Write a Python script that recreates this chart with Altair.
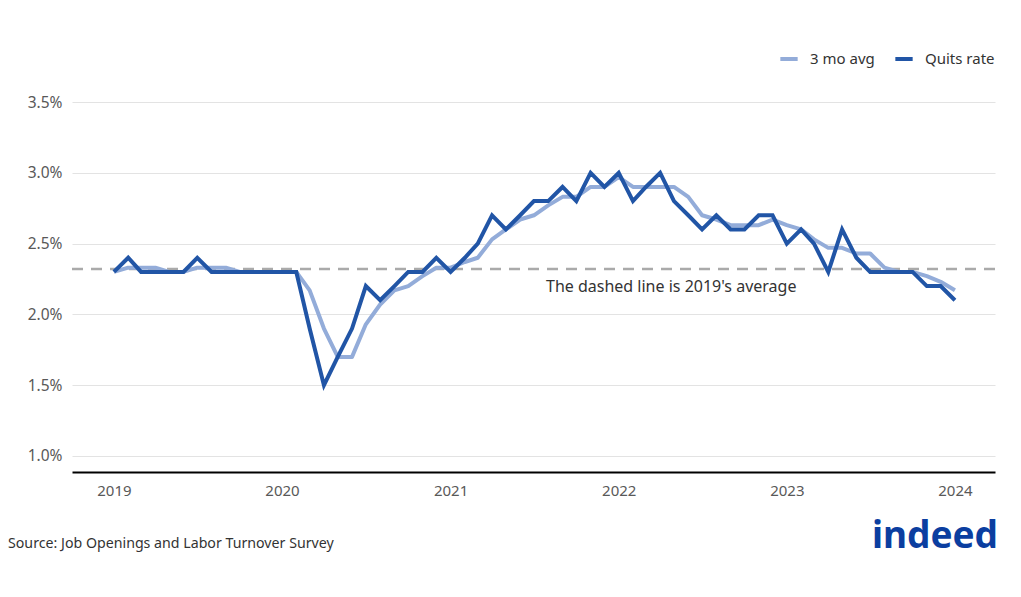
import altair as alt
import pandas as pd

# Monthly observations Jan 2019 .. Jan 2024
months = pd.date_range("2019-01-01", periods=61, freq="MS").strftime("%Y-%m-%dT00:00:00").tolist()

quits_rate = [
    2.3, 2.4, 2.3, 2.3, 2.3, 2.3, 2.4, 2.3, 2.3, 2.3, 2.3, 2.3,   # 2019
    2.3, 2.3, 1.9, 1.5, 1.7, 1.9, 2.2, 2.1, 2.2, 2.3, 2.3, 2.4,   # 2020
    2.3, 2.4, 2.5, 2.7, 2.6, 2.7, 2.8, 2.8, 2.9, 2.8, 3.0, 2.9,   # 2021
    3.0, 2.8, 2.9, 3.0, 2.8, 2.7, 2.6, 2.7, 2.6, 2.6, 2.7, 2.7,   # 2022
    2.5, 2.6, 2.5, 2.3, 2.6, 2.4, 2.3, 2.3, 2.3, 2.3, 2.2, 2.2,   # 2023
    2.1,                                                           # 2024
]

avg_3mo = [
    2.30, 2.33, 2.33, 2.33, 2.30, 2.30, 2.33, 2.33, 2.33, 2.30, 2.30, 2.30,   # 2019
    2.30, 2.30, 2.17, 1.90, 1.70, 1.70, 1.93, 2.07, 2.17, 2.20, 2.27, 2.33,   # 2020
    2.33, 2.37, 2.40, 2.53, 2.60, 2.67, 2.70, 2.77, 2.83, 2.83, 2.90, 2.90,   # 2021
    2.97, 2.90, 2.90, 2.90, 2.90, 2.83, 2.70, 2.67, 2.63, 2.63, 2.63, 2.67,   # 2022
    2.63, 2.60, 2.53, 2.47, 2.47, 2.43, 2.43, 2.33, 2.30, 2.30, 2.27, 2.23,   # 2023
    2.17,                                                                      # 2024
]

avg_2019 = 2.32
series_names = ["3 mo avg", "Quits rate"]
series_colors = ["#93acd9", "#2155a6"]
year_ticks = [2019, 2020, 2021, 2022, 2023, 2024]
y_ticks = [1.0, 1.5, 2.0, 2.5, 3.0, 3.5]

df = pd.DataFrame({
    "date": months * 2,
    "value": avg_3mo + quits_rate,
    "series": ["3 mo avg"] * len(months) + ["Quits rate"] * len(months),
})

W, H = 923, 370

x_enc = alt.X(
    "date:T",
    scale=alt.Scale(domain=["2018-10-02T00:00:00", "2024-03-28T00:00:00"], nice=False),
    axis=alt.Axis(
        title=None,
        values=[alt.DateTime(year=y, month=1, date=1) for y in year_ticks],
        format="%Y",
        grid=False,
        ticks=False,
        domain=True,
        domainColor="#000000",
        domainWidth=2,
        labelPadding=11,
        labelFontSize=15,
        labelColor="#595959",
    ),
)
y_enc = alt.Y(
    "value:Q",
    scale=alt.Scale(domain=[0.887, 3.5], nice=False, zero=False),
    axis=alt.Axis(
        title=None,
        values=y_ticks,
        labelExpr="format(datum.value, '.1f') + '%'",
        grid=True,
        gridColor="#e3e3e3",
        gridWidth=1,
        ticks=False,
        domain=False,
        labelPadding=10,
        labelFontSize=15.5,
        labelColor="#595959",
    ),
)
color_enc = alt.Color(
    "series:N",
    scale=alt.Scale(domain=series_names, range=series_colors),
    legend=alt.Legend(
        title=None,
        orient="none",
        legendX=706,
        legendY=-54,
        direction="horizontal",
        symbolType="stroke",
        symbolStrokeWidth=4,
        symbolSize=300,
        labelFontSize=15,
        labelColor="#333333",
        labelOffset=10,
        columnPadding=12,
    ),
)

base = alt.Chart(df)

light = base.transform_filter(alt.datum.series == "3 mo avg").mark_line(
    strokeWidth=4, strokeJoin="round"
).encode(x=x_enc, y=y_enc, color=color_enc)

dark = base.transform_filter(alt.datum.series == "Quits rate").mark_line(
    strokeWidth=4, strokeJoin="miter"
).encode(x=x_enc, y=y_enc, color=color_enc)

rule = alt.Chart(pd.DataFrame({"avg": [avg_2019]})).mark_rule(
    color="#aaaaaa", strokeDash=[11, 8], strokeWidth=2.5
).encode(y=alt.Y("avg:Q"))

note = alt.Chart(pd.DataFrame({"t": ["The dashed line is 2019's average"]})).mark_text(
    align="left", baseline="middle", fontSize=16, color="#333333"
).encode(text="t:N", x=alt.value(474), y=alt.value(185))

source = alt.Chart(pd.DataFrame({"t": ["Source: Job Openings and Labor Turnover Survey"]})).mark_text(
    align="left", baseline="middle", fontSize=14.2, color="#333333"
).encode(text="t:N", x=alt.value(-64), y=alt.value(442))

logo = alt.Chart(pd.DataFrame({"t": ["indeed"]})).mark_text(
    align="right", baseline="alphabetic", fontSize=37, fontWeight="bold", color="#0b3ea0"
).encode(text="t:N", x=alt.value(926), y=alt.value(446))

chart = alt.layer(rule, light, dark, note, source, logo).properties(
    width=W, height=H,
    padding={"top": 40, "left": 0, "right": 10, "bottom": 12},
).configure(
    font="Noto Sans",
).configure_view(
    stroke=None
)

chart.save("out.html", embed_options={"renderer": "svg", "actions": False})
